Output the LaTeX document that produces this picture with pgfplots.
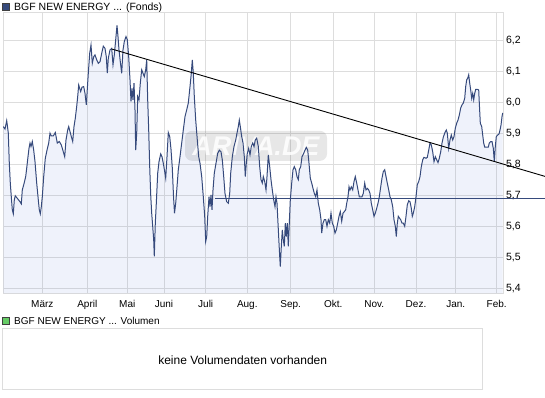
\documentclass[border=0pt]{standalone}
\usepackage{pgfplots}
\pgfplotsset{compat=1.18}
\usepackage{pgfplotstable}
\usepackage{fontspec}
\setmainfont{Liberation Sans}
\definecolor{lineblue}{RGB}{54,74,124}
\definecolor{fillbase}{RGB}{40,80,200}
\definecolor{gridgray}{RGB}{221,221,221}
\definecolor{volgreen}{RGB}{102,204,102}

\pgfplotstableread{
x y
3.3 5.923
5 5.915
6.7 5.942
7.3 5.928
8.3 5.902
9.3 5.805
10.3 5.741
11.3 5.697
12.3 5.655
13.3 5.642
14.3 5.687
15.3 5.700
17.3 5.692
20 5.681
21.3 5.674
22.3 5.719
24 5.739
25.7 5.762
26.7 5.789
28 5.826
29 5.853
30 5.870
31 5.859
32.3 5.875
33.7 5.847
35 5.810
36.7 5.741
38.3 5.687
39.3 5.655
40.3 5.642
41.3 5.665
42.3 5.697
43.7 5.762
45.3 5.821
47 5.847
48.7 5.870
50 5.902
51.3 5.893
53.3 5.893
55.3 5.904
57.3 5.870
59.3 5.875
61.3 5.864
63.3 5.842
64.7 5.826
66 5.880
67.7 5.912
68.7 5.923
70 5.907
71.3 5.891
72.7 5.875
74 5.923
75.3 5.950
76.7 5.988
77.7 6.020
78.7 6.057
79.7 6.046
80.7 6.036
82 6.050
83.7 6.052
85 6.030
86.3 5.993
88.3 6.095
89.7 6.159
91 6.186
92.3 6.127
93.7 6.148
95 6.154
96.7 6.138
98.3 6.127
100 6.132
101.7 6.159
103.3 6.182
105 6.175
106.3 6.148
107.3 6.095
108.3 6.143
110 6.170
111.7 6.175
113 6.122
114.3 6.154
115.7 6.203
117 6.249
118 6.213
119 6.170
120.3 6.132
121.7 6.095
123 6.170
124.3 6.197
126 6.213
127.3 6.203
128.7 6.148
130 6.074
131 6.004
132 6.046
133 6.009
134 6.063
135 5.977
135.7 5.847
136.7 5.902
137.7 6.020
139 6.009
140.3 6.063
141.7 6.106
143 6.095
144.3 6.084
145.7 6.106
146.7 6.138
147.7 6.009
148.7 5.912
149.7 5.794
150.7 5.703
151.7 5.644
152.7 5.602
153.7 5.558
154.3 5.505
155.3 5.612
156.3 5.676
157.7 5.773
159 5.810
160.7 5.835
162 5.826
163.3 5.805
164.7 5.778
165.7 5.757
167 5.826
168.3 5.904
169.7 5.891
171 5.850
172.3 5.790
173.5 5.699
174.5 5.644
175.7 5.676
177 5.729
178.3 5.784
180 5.826
181.7 5.870
183.3 5.912
185 5.955
186.7 5.977
188.3 5.999
190 6.052
191.3 6.095
192.3 6.138
193.3 6.095
194.3 6.020
195.7 5.944
197.3 5.880
198.7 5.826
200 5.805
201.7 5.762
203.3 5.697
204.7 5.634
205.7 5.553
206.7 5.569
207.7 5.634
209 5.697
210 5.665
211 5.703
212 5.655
213 5.719
214.3 5.773
216 5.805
217.7 5.837
219.3 5.847
221 5.842
222.3 5.816
223.7 5.762
225 5.708
226.7 5.681
228.3 5.676
229.7 5.708
230.7 5.773
232.3 5.826
234 5.859
235.7 5.880
237 5.902
238.3 5.923
239.3 5.944
240.3 5.923
241.7 5.891
243 5.870
244.3 5.826
245.3 5.762
246.3 5.805
247.3 5.837
248.7 5.853
250 5.832
251.3 5.859
252.7 5.870
254 5.859
255.3 5.880
256.7 5.886
258.3 5.859
259.7 5.794
261 5.752
262.3 5.741
263.3 5.762
264.7 5.746
266 5.719
267 5.762
268.3 5.832
269.7 5.794
271 5.752
272.3 5.719
273.7 5.687
275 5.665
276 5.697
277 5.676
278 5.612
279 5.548
279.7 5.505
280.3 5.472
281.3 5.537
282.3 5.590
283.3 5.558
284.3 5.537
285.3 5.612
286.3 5.569
287.3 5.612
288.3 5.537
289.3 5.612
290.3 5.687
291.7 5.741
293 5.784
294.3 5.794
295.7 5.784
297 5.762
298.3 5.752
299.3 5.784
300.7 5.794
302 5.826
303.7 5.837
305 5.847
306.3 5.856
307.7 5.847
309 5.805
310.3 5.757
311.7 5.741
313 5.724
314.3 5.708
315.7 5.697
317 5.719
318.3 5.676
319.7 5.655
321 5.623
321.7 5.580
323 5.612
324.3 5.623
325.7 5.623
327 5.602
328.3 5.623
329.7 5.612
331 5.644
332.3 5.612
333.7 5.602
335 5.580
336.3 5.590
337.7 5.612
339 5.634
340.3 5.649
341.7 5.618
343 5.644
344.3 5.649
345.7 5.655
346.7 5.676
348 5.697
349 5.729
350 5.719
351.3 5.729
352.7 5.719
354 5.746
355.3 5.762
356.7 5.741
358 5.719
359.3 5.697
360.7 5.697
362 5.697
363.3 5.708
364.7 5.741
366 5.719
367.3 5.724
368.7 5.719
370 5.708
371.3 5.676
372.7 5.655
374 5.634
375.3 5.644
376.7 5.660
378 5.676
379.3 5.697
380.7 5.729
382 5.757
383.3 5.778
384.7 5.784
386 5.762
387.3 5.741
388.7 5.719
390 5.697
391.3 5.687
392.7 5.665
394 5.623
395.3 5.602
396.3 5.569
397.3 5.612
398.3 5.634
399.3 5.629
400.7 5.623
402 5.612
403.3 5.612
404.7 5.602
406 5.634
407.3 5.671
408.7 5.684
410 5.681
411.3 5.660
412.3 5.634
413.3 5.644
414.7 5.665
416 5.697
417.3 5.736
418.7 5.746
420 5.762
421.3 5.794
422.7 5.816
424 5.824
426 5.821
427.3 5.824
428.7 5.847
430 5.870
431.3 5.864
432.7 5.842
434 5.810
435.3 5.826
436.7 5.816
438 5.807
439.3 5.821
440.7 5.842
442 5.870
443.3 5.889
444.7 5.902
446.3 5.912
447.3 5.902
448.7 5.853
450 5.880
451.3 5.896
452.7 5.880
454 5.891
455.3 5.918
456.7 5.934
458 5.944
459.3 5.960
460.7 5.983
462 5.993
463.3 5.999
464.7 6.014
465.7 6.052
466.7 6.074
467.7 6.079
468.7 6.090
469.7 6.063
470.7 6.041
471.7 6.014
472.7 6.030
473.7 6.009
474.7 6.030
475.7 6.043
477.3 6.043
478.7 6.041
479.3 5.999
480.3 5.934
481.7 5.923
482.7 5.896
483.7 5.870
484.7 5.857
486.7 5.857
488.3 5.857
489.3 5.870
490.7 5.875
492 5.875
493.3 5.853
494.3 5.810
495.3 5.859
496.3 5.891
497.7 5.896
499 5.899
500 5.912
501 5.928
502 5.955
502.7 5.967
}\pricedata

\begin{document}
\begin{tikzpicture}
\fill[white] (0pt,0pt) rectangle (545pt,398pt);
\useasboundingbox (0pt,0pt) rectangle (545pt,398pt);

% header of the price panel
\node[draw=black!75, fill=lineblue, minimum size=7pt, inner sep=0pt, anchor=south west] at (1.5pt,387.5pt) {};
\node[anchor=base west, inner sep=0pt, font=\fontsize{10.5}{12}\selectfont] at (14pt,387pt) {BGF NEW ENERGY ... (Fonds)};

\begin{axis}[
  at={(3pt,104.7pt)}, anchor=south west, scale only axis,
  width=500.3pt, height=280.3pt,
  xmin=3, xmax=503.3, ymin=5.386, ymax=6.289,
  axis line style={gridgray, line width=1pt},
  grid=major, major grid style={gridgray, line width=1pt},
  tick style={draw=none}, major tick length=0pt,
  xtick={42.3,87.3,127.3,164,205.7,247.3,290.7,333.3,374.3,416,455.7,496.7},
  xticklabels={März,April,Mai,Juni,Juli,Aug.,Sep.,Okt.,Nov.,Dez.,Jan.,Feb.},
  ytick={5.4,5.5,5.6,5.7,5.8,5.9,6.0,6.1,6.2},
  yticklabel pos=right,
  xticklabel style={font=\fontsize{10}{12}\selectfont, anchor=base, yshift=-14pt},
  yticklabel style={font=\fontsize{10.5}{12}\selectfont, anchor=west, xshift=-0.8pt,
    /pgf/number format/.cd, use comma, fixed, fixed zerofill, precision=1, assume math mode=true},
]
\addplot[draw=none, fill=fillbase, fill opacity=0.07] table {\pricedata} \closedcycle;
\node[fill=black, fill opacity=0.095, text=white, text opacity=0.85, rounded corners=7pt,
  minimum width=142pt, minimum height=30pt, inner sep=0pt,
  font=\fontsize{27}{27}\selectfont\bfseries\itshape] at (axis cs:256,5.861) {ARIVA.DE};
\addplot[lineblue, line width=1pt] table {\pricedata};
\end{axis}

% trend line and support line, reaching beyond the plot area
\begin{axis}[
  at={(3pt,104.7pt)}, anchor=south west, scale only axis,
  width=542.7pt, height=280.3pt,
  xmin=3, xmax=545.7, ymin=5.386, ymax=6.289,
  hide axis,
]
\addplot[lineblue, line width=1.1pt] coordinates {(215,5.692) (545.7,5.692)};
\addplot[black, line width=0.9pt] coordinates {(111.7,6.173) (545.7,5.762)};
\end{axis}

% volume panel
\node[draw=black!75, fill=volgreen, minimum size=7pt, inner sep=0pt, anchor=south west] at (1.5pt,73.5pt) {};
\node[anchor=base west, inner sep=0pt, font=\fontsize{10}{12}\selectfont] at (14pt,73.5pt) {BGF NEW ENERGY ... Volumen};
\begin{axis}[
  at={(2.7pt,9pt)}, anchor=south west, scale only axis,
  width=480pt, height=60pt,
  xmin=0, xmax=1, ymin=0, ymax=1,
  xtick=\empty, ytick=\empty,
  axis line style={gridgray, line width=1pt},
]
\node[font=\fontsize{12}{14}\selectfont] at (axis cs:0.5,0.48) {keine Volumendaten vorhanden};
\end{axis}
\end{tikzpicture}
\end{document}
